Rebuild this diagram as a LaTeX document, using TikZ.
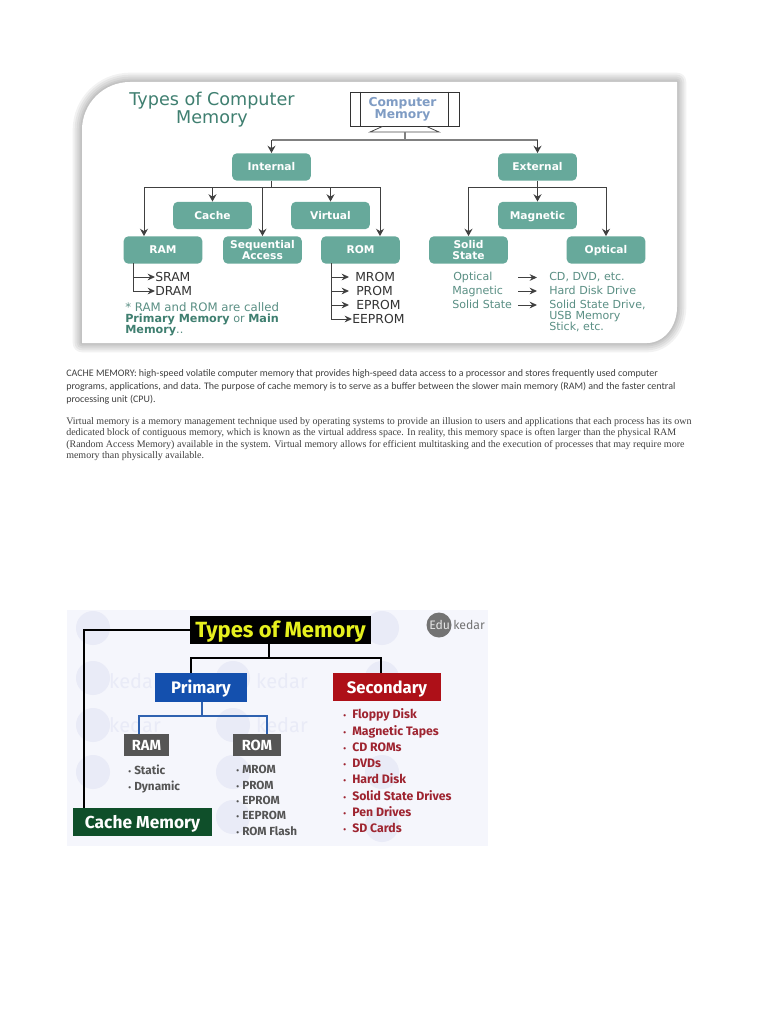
\documentclass[tikz,border=0pt]{standalone}
\usepackage{fontspec}
\usetikzlibrary{arrows.meta,calc}
\setmainfont{DejaVu Sans}
\newfontfamily\carl{Carlito}
\newfontfamily\lser{Liberation Serif}
\newfontfamily\fira{Fira Sans}
\definecolor{teal1}{HTML}{67A99B}
\definecolor{teal2}{HTML}{3F7F70}
\definecolor{tealtx}{HTML}{5A8F84}
\definecolor{monit}{HTML}{7F9CC4}
\definecolor{wash}{HTML}{F5F6FC}
\definecolor{wmark}{HTML}{E9EBF7}
\definecolor{ymem}{HTML}{E6F01E}
\definecolor{blu}{HTML}{1450AE}
\definecolor{redb}{HTML}{AE1018}
\definecolor{grayb}{HTML}{555555}
\definecolor{greenb}{HTML}{0F4F2A}
\definecolor{redt}{HTML}{9E2430}
\definecolor{grayt}{HTML}{555555}
\definecolor{bluel}{HTML}{2F62B0}
\tikzset{
  x=0.75pt,y=-0.75pt,
  tbox/.style={draw=none,fill=teal1,rounded corners=3.5pt,minimum width=59pt,minimum height=20.5pt,inner sep=0pt,text=white,align=center,font=\fontsize{8}{8.6}\selectfont\bfseries},
  oneline/.style={text height=5.9pt,text depth=0pt},
  conn/.style={draw=black!75,line width=0.75pt},
  arr/.style={conn,-{Stealth[length=5.5pt,width=6pt]}},
  harr/.style={conn,-{Stealth[length=5.5pt,width=5pt]}},
  txt/.style={inner sep=0pt,anchor=base west,font=\fontsize{9.3}{9.3}\selectfont,text=black!80},
  rtxt/.style={txt,font=\fontsize{8.3}{8.3}\selectfont,text=tealtx},
  para/.style={inner sep=0pt,anchor=base west,text=black!75},
  blk/.style={inner sep=0pt,minimum height=20pt,font=\fira\bfseries},
  bul/.style={inner sep=0pt,anchor=base west,font=\fira\bfseries\fontsize{8.8}{8.8}\selectfont},
  rbul/.style={inner sep=0pt,anchor=base west,font=\fira\bfseries\fontsize{9.2}{9.2}\selectfont},
  dotm/.style={inner sep=0pt,anchor=base west,font=\fira\bfseries\fontsize{6}{6}\selectfont},
  bline/.style={draw=black,line width=1.6pt},
}
\begin{document}
\begin{tikzpicture}
\useasboundingbox (0,0) rectangle (768,1024);
\fill[white] (0,0) rectangle (768,1024);
% panel shadow
\foreach \w in {14,11,8,5,2.5}{
  \draw[black,opacity=0.05,line width=\w pt,line join=round]
   (130,82) -- (677,82) -- (677,307) arc[start angle=0,end angle=90,x radius=30,y radius=36] -- (82,343) -- (82,130) arc[start angle=180,end angle=270,x radius=48,y radius=48] -- cycle;
}
\fill[white] (130,82) -- (677,82) -- (677,307) arc[start angle=0,end angle=90,x radius=30,y radius=36] -- (82,343) -- (82,130) arc[start angle=180,end angle=270,x radius=48,y radius=48] -- cycle;

% title
\node[inner sep=0pt,align=center,text=teal2,font=\fontsize{13.2}{13}\selectfont] (title) at (212,109.5) {Types of Computer\\Memory};

% monitor
\node[draw=black!80,line width=0.7pt,minimum width=81.75pt,minimum height=25.5pt,inner sep=0pt] (mon) at (404.5,109) {};
\draw[black!80,line width=0.7pt] ($(mon.north west)+(11,0)$) -- ($(mon.south west)+(11,0)$)
  ($(mon.north east)+(-11,0)$) -- ($(mon.south east)+(-11,0)$);
\node[inner sep=0pt,align=center,text=monit,font=\fontsize{9.2}{9}\selectfont\bfseries] (montxt) at (402.5,109.5) {Computer\\Memory};
\coordinate (standb) at (405,132);
\coordinate (bus0) at (405,140);
\draw[black!70,line width=0.6pt] ($(mon.south)+(-22,0)$) -- ($(standb)+(-35,0)$) -- ($(standb)+(34,0)$) -- ($(mon.south)+(22,0)$);

% boxes
\node[tbox,oneline] (int) at (271.5,167) {Internal};
\node[tbox,oneline] (ext) at (537.5,167) {External};
\node[tbox,oneline] (cache) at (212.5,215.5) {Cache};
\node[tbox,oneline] (virt) at (330.5,215.5) {Virtual};
\node[tbox,oneline] (mag) at (537.5,215.5) {Magnetic};
\node[tbox,oneline] (ram) at (163,250) {RAM};
\node[tbox] (seq) at (262.5,250) {Sequential\\Access};
\node[tbox,oneline] (rom) at (360.5,250) {ROM};
\node[tbox] (solid) at (468.5,250) {Solid\\State};
\node[tbox,oneline] (opt) at (606,250) {Optical};

% top connectors
\coordinate (busA) at (int.north |- bus0);
\coordinate (busB) at (ext.north |- bus0);
\draw[conn,draw=black!50,line width=0.9pt] (standb) -- (bus0);
\draw[conn,draw=black!50,line width=0.9pt] (busA) -- (busB);
\draw[arr] (busA) -- (int.north);
\draw[arr] (busB) -- (ext.north);

\coordinate (ib) at (271.5,187);
\coordinate (il) at (144,187);
\coordinate (ir) at (380,187);
\draw[conn] (int.south) -- (ib);
\draw[conn] (il) -- (ir);
\draw[arr] (il) -- (il |- ram.north);
\draw[arr] (ib -| cache.north) -- (cache.north);
\draw[arr] (ib -| seq.north) -- (seq.north);
\draw[arr] (ib -| virt.north) -- (virt.north);
\draw[arr] (ir) -- (ir |- rom.north);

\coordinate (eb) at (537.5,187);
\coordinate (el) at (468.5,187);
\coordinate (er) at (606,187);
\draw[conn] (el) -- (er);
\draw[arr] (ext.south) -- (mag.north);
\draw[arr] (el) -- (solid.north);
\draw[arr] (er) -- (opt.north);

% RAM list
\node[txt] (sram) at (155,281) {SRAM};
\node[txt] (dram) at (155,295) {DRAM};
\coordinate (rt) at (133,263);
\coordinate (r1) at (133,277);
\coordinate (r2) at (133,291);
\draw[conn] (rt) -- (r2);
\draw[harr] (r1) -- (sram.west |- r1);
\draw[harr] (r2) -- (dram.west |- r2);

% ROM list
\node[txt] (mrom) at (355,281) {MROM};
\node[txt] (prom) at (356,295) {PROM};
\node[txt] (eprom) at (356,309) {EPROM};
\node[txt] (eeprom) at (352,323) {EEPROM};
\coordinate (ot) at (331,263);
\coordinate (o1) at (331,277);
\coordinate (o2) at (331,291);
\coordinate (o3) at (331,305);
\coordinate (o4) at (331,319);
\draw[conn] (ot) -- (o4);
\draw[harr] (o1) -- (349,277);
\draw[harr] (o2) -- (349,291);
\draw[harr] (o3) -- (349,305);
\draw[harr] (o4) -- (eeprom.west |- o4);

% note
\node[rtxt,font=\fontsize{8.8}{8.8}\selectfont] (n1) at (125,311.5) {* RAM and ROM are called};
\node[txt,font=\fontsize{8.4}{8.4}\selectfont,text=teal2] (n2) at (125,322.5) {\textbf{Primary Memory} \textcolor{tealtx}{or} \textbf{Main}};
\node[txt,font=\fontsize{8.4}{8.4}\selectfont,text=teal2] (n3) at (125,333.5) {\textbf{Memory}\textcolor{tealtx}{..}};

% right legend
\node[rtxt] (lo) at (453,280.5) {Optical};
\node[rtxt] (lm) at (452,294.5) {Magnetic};
\node[rtxt] (ls) at (452,308.5) {Solid State};
\node[rtxt] (ro) at (549,280.5) {CD, DVD, etc.};
\node[rtxt] (rm) at (549,294.5) {Hard Disk Drive};
\node[rtxt] (rs) at (549,308.5) {Solid State Drive,};
\node[rtxt] (rs2) at (549,319) {USB Memory};
\node[rtxt] (rs3) at (549,330) {Stick, etc.};
\coordinate (a1) at (518,277.5);
\coordinate (a2) at (518,291);
\coordinate (a3) at (518,305);
\draw[harr] (a1) -- (537,277.5);
\draw[harr] (a2) -- (537,291);
\draw[harr] (a3) -- (537,305);

% paragraphs
\begin{scope}[every node/.append style={para}]
\node[font=\carl\fontsize{7.5}{7.5}\selectfont] (p1) at (66,376.5) {CACHE MEMORY: high-speed volatile computer memory that provides high-speed data access to a processor and stores frequently used computer};
\node[font=\carl\fontsize{7.5}{7.5}\selectfont] (p2) at (66,389.5) {programs, applications, and data. The purpose of cache memory is to serve as a buffer between the slower main memory (RAM) and the faster central};
\node[font=\carl\fontsize{7.5}{7.5}\selectfont] (p3) at (66,402.5) {processing unit (CPU).};
\node[font=\lser\fontsize{7.5}{7.5}\selectfont] (p4) at (66,424) {Virtual memory is a memory management technique used by operating systems to provide an illusion to users and applications that each process has its own};
\node[font=\lser\fontsize{7.5}{7.5}\selectfont] (p5) at (66,435.5) {dedicated block of contiguous memory, which is known as the virtual address space. In reality, this memory space is often larger than the physical RAM};
\node[font=\lser\fontsize{7.5}{7.5}\selectfont] (p6) at (66,447) {(Random Access Memory) available in the system. Virtual memory allows for efficient multitasking and the execution of processes that may require more};
\node[font=\lser\fontsize{7.5}{7.5}\selectfont] (p7) at (66,458.5) {memory than physically available.};
\end{scope}

% lower figure
\fill[wash] (67,610) rectangle (488,846);
\foreach \cx/\cy in {93/628,93/678,93/725,93/772,233/678,233/725,233/772,233/817,382/628,382/678,382/772,382/825}{
  \fill[wmark] (\cx,\cy) circle[radius=17];
}
\node[inner sep=0pt,text=wmark,font=\fira\fontsize{15}{15}\selectfont] (wm1) at (282,681) {kedar};
\node[inner sep=0pt,text=wmark,font=\fira\fontsize{15}{15}\selectfont] (wm2) at (135,681) {kedar};
\node[inner sep=0pt,text=wmark,font=\fira\fontsize{15}{15}\selectfont] (wm3) at (135,725) {kedar};
\node[inner sep=0pt,text=wmark,font=\fira\fontsize{15}{15}\selectfont] (wm4) at (282,725) {kedar};

\node[blk,fill=black,text=ymem,minimum width=135.75pt,minimum height=21pt,text height=11pt,text depth=0pt,font=\fira\bfseries\fontsize{16.5}{16.5}\selectfont] (tm) at (280.5,630) {Types of Memory};
\node[blk,fill=blu,text=white,minimum width=69pt,minimum height=21.75pt,text height=9pt,text depth=0pt,font=\fira\bfseries\fontsize{12.5}{12.5}\selectfont] (prim) at (201,687.5) {Primary};
\node[blk,fill=redb,text=white,minimum width=81pt,minimum height=21pt,text height=9pt,text depth=0pt,font=\fira\bfseries\fontsize{12.5}{12.5}\selectfont] (sec) at (387,687) {Secondary};
\node[blk,fill=grayb,text=white,minimum width=33.75pt,minimum height=16.5pt,text height=7.8pt,text depth=0pt,font=\fira\bfseries\fontsize{11}{11}\selectfont] (ram2) at (146.5,745) {RAM};
\node[blk,fill=grayb,text=white,minimum width=36pt,minimum height=16.5pt,text height=7.8pt,text depth=0pt,font=\fira\bfseries\fontsize{11}{11}\selectfont] (rom2) at (257,745) {ROM};
\node[blk,fill=greenb,text=white,minimum width=104.25pt,minimum height=21pt,text height=9.4pt,text depth=0pt,font=\fira\bfseries\fontsize{13}{13}\selectfont] (cm) at (142.5,822) {Cache Memory};

\coordinate (lc) at (84,630);
\coordinate (tb) at (269,658);
\coordinate (tl) at (191,658);
\coordinate (tr) at (381,658);
\draw[bline] (tm.west) -- (lc) -- (lc |- cm.north);
\draw[bline] (tm.south -| tb) -- (tb);
\draw[bline] (tl |- sec.north) -- (tl) -- (tr) -- (tr |- sec.north);
\coordinate (pb) at (202,716);
\coordinate (pl) at (139,716);
\coordinate (pr) at (267,716);
\draw[draw=bluel,line width=1.1pt] (prim.south -| pb) -- (pb);
\draw[draw=bluel,line width=1.1pt] (pl |- ram2.north) -- (pl) -- (pr) -- (pr |- rom2.north);

% logo
\fill[black!55] (439,625) circle[radius=12.5];
\node[inner sep=0pt,anchor=west,font=\fira\fontsize{9.2}{9.2}\selectfont,text=black!10] (edu) at (429,625) {Edu};
\node[inner sep=0pt,anchor=west,font=\fira\fontsize{9.2}{9.2}\selectfont,text=black!55] (ked) at (453,625) {kedar};

% lists
\begin{scope}[every node/.append style={bul,text=grayt}]
\node[dotm] (b1) at (128,774) {•}; \node (g1) at (134,774) {Static};
\node[dotm] (b2) at (128,790) {•}; \node (g2) at (134,790) {Dynamic};
\node[dotm] (b3) at (236,773) {•}; \node (g3) at (242,773) {MROM};
\node[dotm] (b4) at (236,789) {•}; \node (g4) at (242,789) {PROM};
\node[dotm] (b5) at (236,804) {•}; \node (g5) at (242,804) {EPROM};
\node[dotm] (b6) at (236,819) {•}; \node (g6) at (242,819) {EEPROM};
\node[dotm] (b7) at (236,835) {•}; \node (g7) at (242,835) {ROM Flash};
\end{scope}
\begin{scope}[every node/.append style={rbul,text=redt}]
\node[dotm] (c1) at (343,718.5) {•}; \node (s1) at (352,718.5) {Floppy Disk};
\node[dotm] (c2) at (343,735.5) {•}; \node (s2) at (352,735.5) {Magnetic Tapes};
\node[dotm] (c3) at (343,751.5) {•}; \node (s3) at (352,751.5) {CD ROMs};
\node[dotm] (c4) at (343,767.5) {•}; \node (s4) at (352,767.5) {DVDs};
\node[dotm] (c5) at (343,783.5) {•}; \node (s5) at (352,783.5) {Hard Disk};
\node[dotm] (c6) at (343,800.5) {•}; \node (s6) at (352,800.5) {Solid State Drives};
\node[dotm] (c7) at (343,816.5) {•}; \node (s7) at (352,816.5) {Pen Drives};
\node[dotm] (c8) at (343,832.5) {•}; \node (s8) at (352,832.5) {SD Cards};
\end{scope}
\end{tikzpicture}
\end{document}
